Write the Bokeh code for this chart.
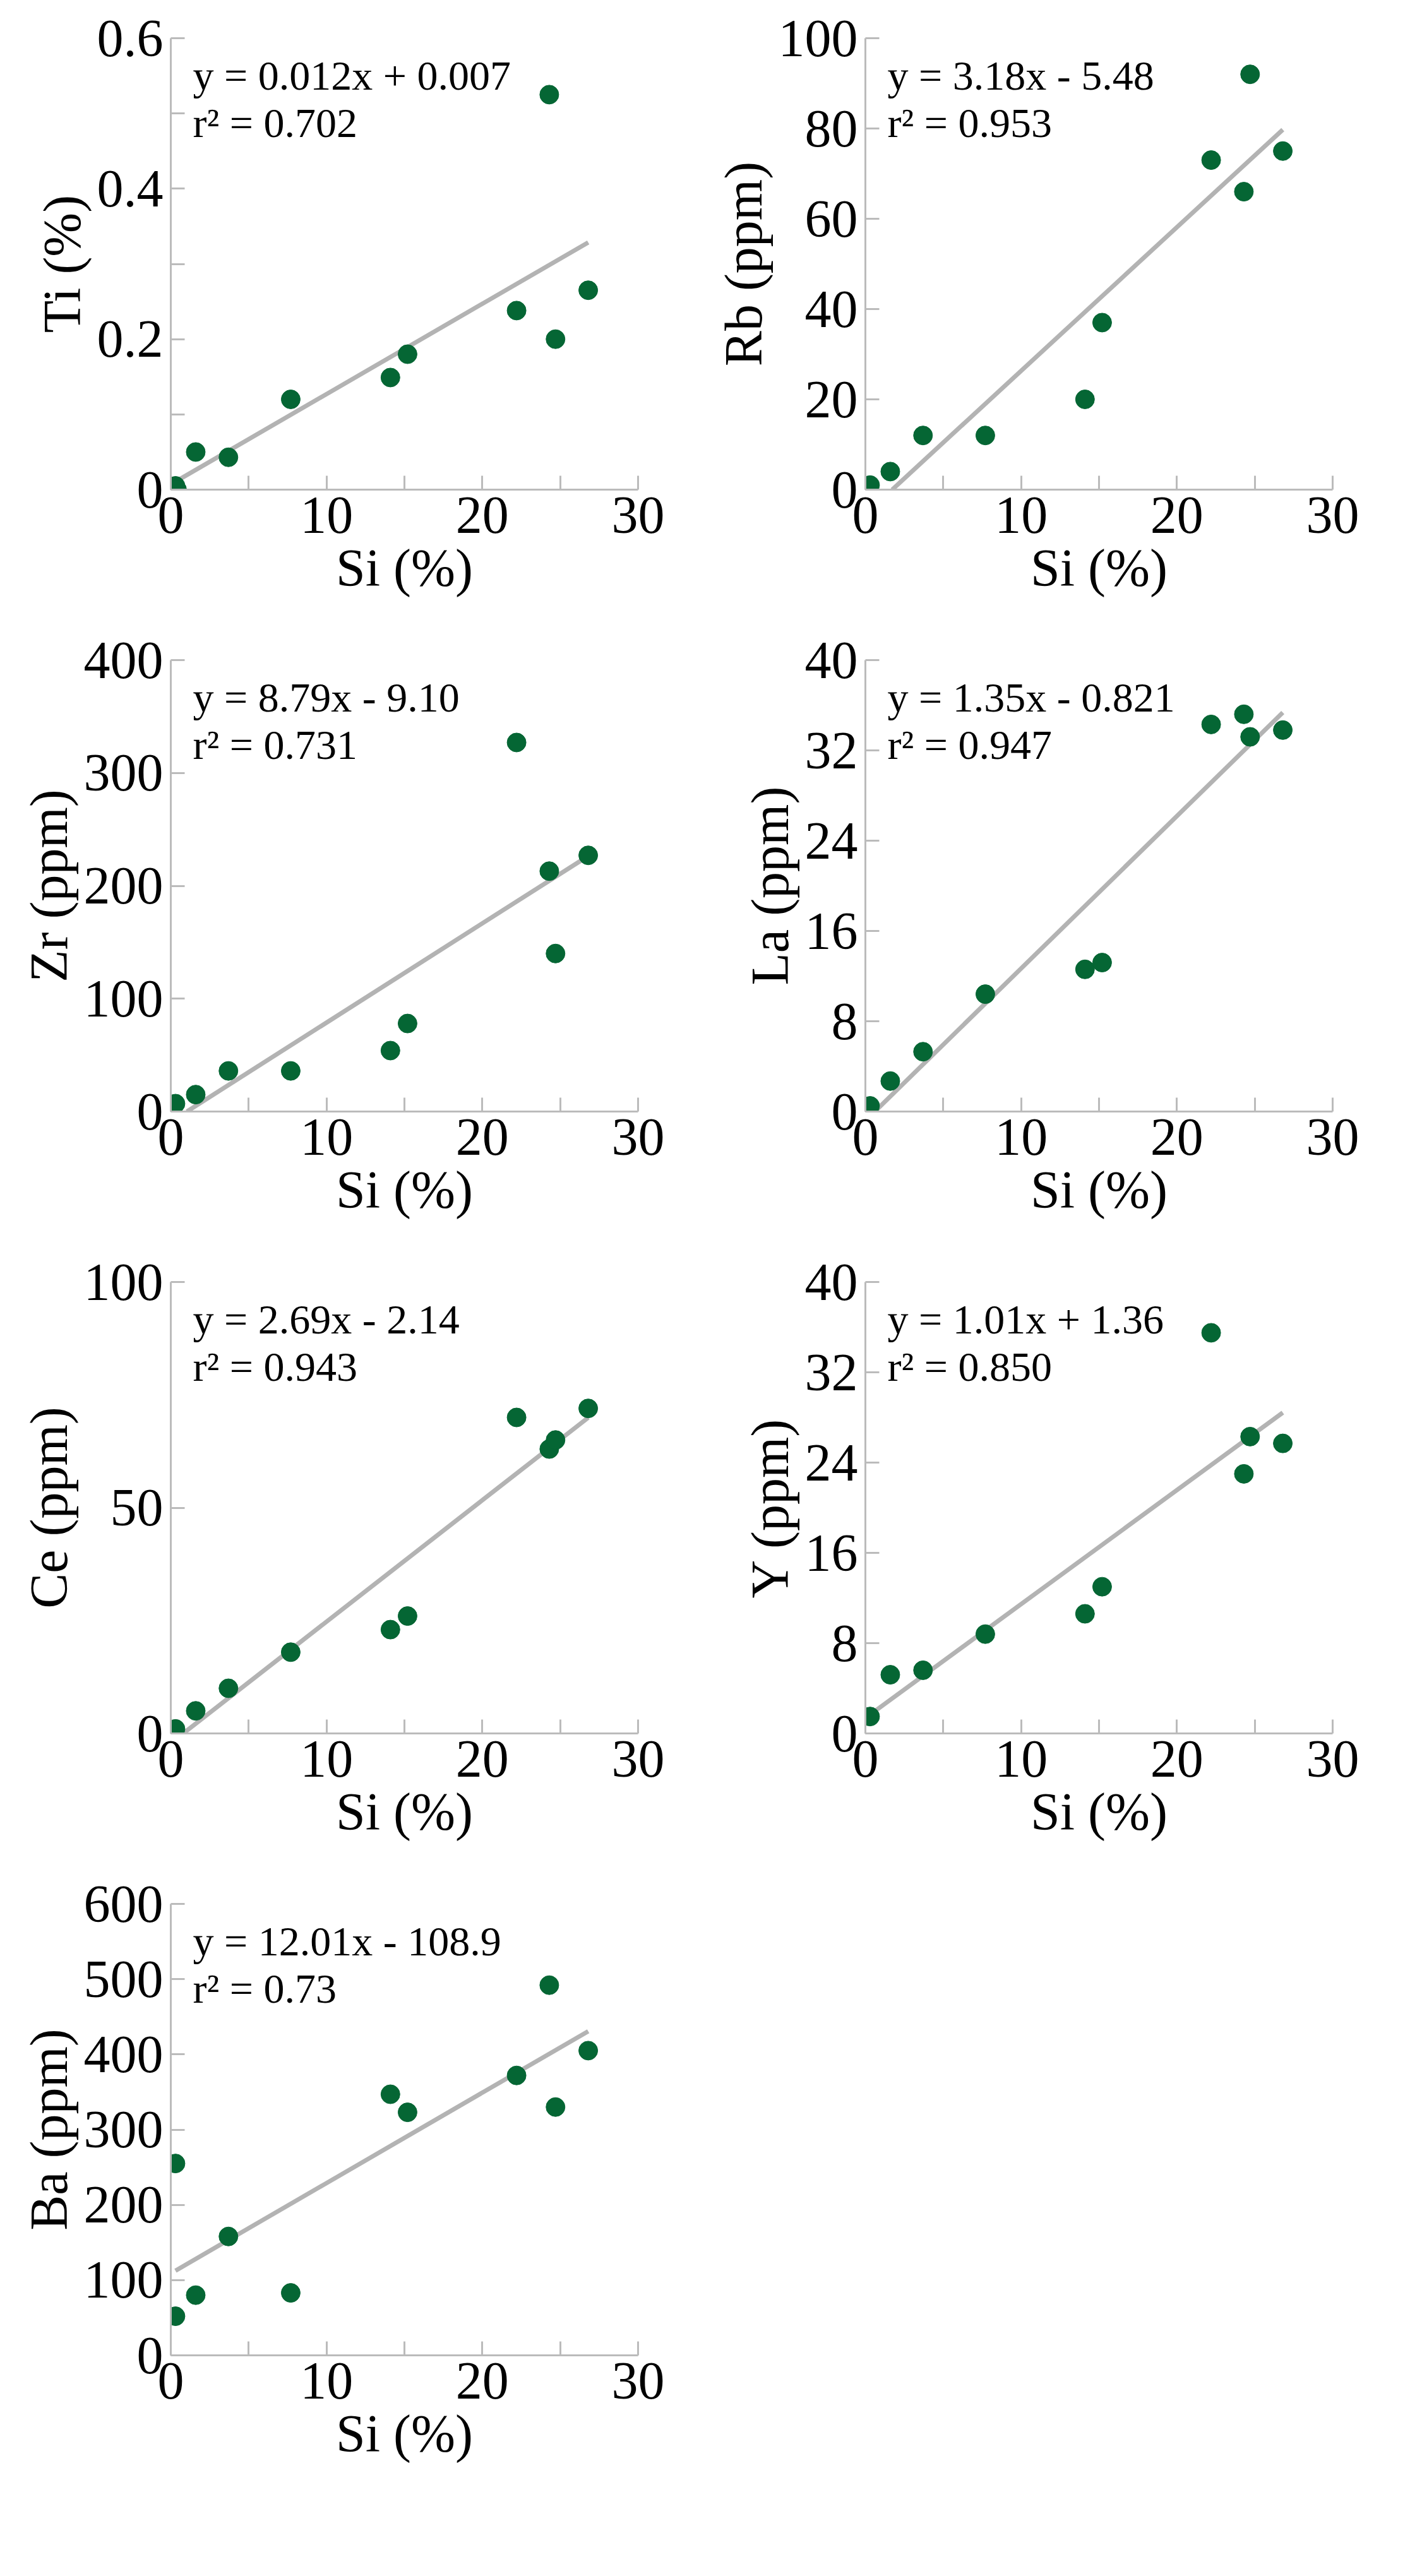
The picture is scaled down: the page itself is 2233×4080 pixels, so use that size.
from bokeh.plotting import figure
from bokeh.layouts import gridplot
from bokeh.models import Range1d, FixedTicker, Label
from bokeh.embed import file_html
from bokeh.resources import INLINE

si = [0.3, 0.4, 1.6, 3.7, 7.7, 14.1, 15.2, 22.2, 24.3, 24.7, 26.8]
si10 = [0.3, 1.6, 3.7, 7.7, 14.1, 15.2, 22.2, 24.3, 24.7, 26.8]
si_ba = [0.3, 0.3, 1.6, 3.7, 7.7, 14.1, 15.2, 22.2, 24.3, 24.7, 26.8]

ti = [0.005, 0.0, 0.05, 0.043, 0.12, 0.149, 0.18, 0.238, 0.525, 0.2, 0.265]
rb = [1, 4, 12, 12, 20, 37, 73, 66, 92, 75]
zr = [7, 15, 36, 36, 54, 78, 327, 213, 140, 227]
la = [0.5, 2.7, 5.3, 10.4, 12.6, 13.2, 34.3, 35.2, 33.2, 33.8]
ce = [1, 5, 10, 18, 23, 26, 70, 63, 65, 72]
yy = [1.5, 5.2, 5.6, 8.8, 10.6, 13.0, 35.5, 23.0, 26.3, 25.7]
ba = [255, 52, 80, 158, 83, 347, 323, 372, 492, 330, 405]

# (label, x, y, drawn slope, drawn intercept, equation, r2, ymax, ticks, labelled ticks)
panels = [
    ("Ti (%)", si, ti, 0.012, 0.007, "y = 0.012x + 0.007", "r² = 0.702", 0.6, [0, 0.1, 0.2, 0.3, 0.4, 0.5, 0.6], [0, 0.2, 0.4, 0.6]),
    ("Rb (ppm)", si10, rb, 3.18, -5.48, "y = 3.18x - 5.48", "r² = 0.953", 100, [0, 20, 40, 60, 80, 100], None),
    ("Zr (ppm)", si10, zr, 8.79, -9.10, "y = 8.79x - 9.10", "r² = 0.731", 400, [0, 100, 200, 300, 400], None),
    ("La (ppm)", si10, la, 1.35, -0.821, "y = 1.35x - 0.821", "r² = 0.947", 40, [0, 8, 16, 24, 32, 40], None),
    ("Ce (ppm)", si10, ce, 2.69, -2.14, "y = 2.69x - 2.14", "r² = 0.943", 100, [0, 50, 100], None),
    ("Y (ppm)", si10, yy, 1.01, 1.36, "y = 1.01x + 1.36", "r² = 0.850", 40, [0, 8, 16, 24, 32, 40], None),
    ("Ba (ppm)", si_ba, ba, 12.01, 108.9, "y = 12.01x - 108.9", "r² = 0.73", 600, [0, 100, 200, 300, 400, 500, 600], None),
]

FONT = "Liberation Serif"

def fmt(v):
    return f"{v:g}"

figs = []
for (lab, xs, ys, a, b, eq, r2, ymax, yt, ylab) in panels:
    p = figure(width=1100, height=985, output_backend="svg", toolbar_location=None,
               x_range=Range1d(0, 30), y_range=Range1d(0, ymax),
               min_border_left=270, min_border_right=90, min_border_top=60, min_border_bottom=210)
    p.outline_line_color = None
    p.grid.visible = False
    x0 = max(min(xs), -b / a)
    x1 = max(xs)
    p.line([x0, x1], [a * x0 + b, a * x1 + b], line_color="#b3b3b3", line_width=7)
    p.scatter(xs, ys, size=30, fill_color="#056634", line_color="#056634")
    p.xaxis.ticker = FixedTicker(ticks=[0, 5, 10, 15, 20, 25, 30], minor_ticks=[])
    p.xaxis.major_label_overrides = {5: "", 15: "", 25: ""}
    p.yaxis.ticker = FixedTicker(ticks=yt, minor_ticks=[])
    if ylab is not None:
        p.yaxis.major_label_overrides = {t: (fmt(t) if t in ylab else "") for t in yt}
    else:
        p.yaxis.major_label_overrides = {t: fmt(t) for t in yt}
    p.xaxis.axis_label = "Si (%)"
    p.yaxis.axis_label = lab
    for ax in (p.xaxis[0], p.yaxis[0]):
        ax.axis_line_color = "#bbbbbb"
        ax.axis_line_width = 3
        ax.major_tick_line_color = "#bbbbbb"
        ax.major_tick_line_width = 3
        ax.major_tick_in = 22
        ax.major_tick_out = 0
        ax.major_label_text_font = FONT
        ax.major_label_text_font_size = "84px"
        ax.major_label_text_color = "black"
        ax.axis_label_text_font = FONT
        ax.axis_label_text_font_size = "84px"
        ax.axis_label_text_font_style = "normal"
        ax.axis_label_text_color = "black"
        ax.axis_label_standoff = 6
    p.xaxis.major_label_standoff = 12
    p.yaxis.major_label_standoff = 12
    p.add_layout(Label(x=35, y=985 - 210 - 60 - 95, x_units="screen", y_units="screen", text=eq,
                       text_font=FONT, text_font_size="66px", text_color="black"))
    p.add_layout(Label(x=35, y=985 - 210 - 60 - 170, x_units="screen", y_units="screen", text=r2,
                       text_font=FONT, text_font_size="66px", text_color="black"))
    figs.append(p)

grid = gridplot([[figs[0], figs[1]], [figs[2], figs[3]], [figs[4], figs[5]], [figs[6], None]],
                toolbar_location=None)
open("out.html", "w").write(file_html(grid, INLINE))
